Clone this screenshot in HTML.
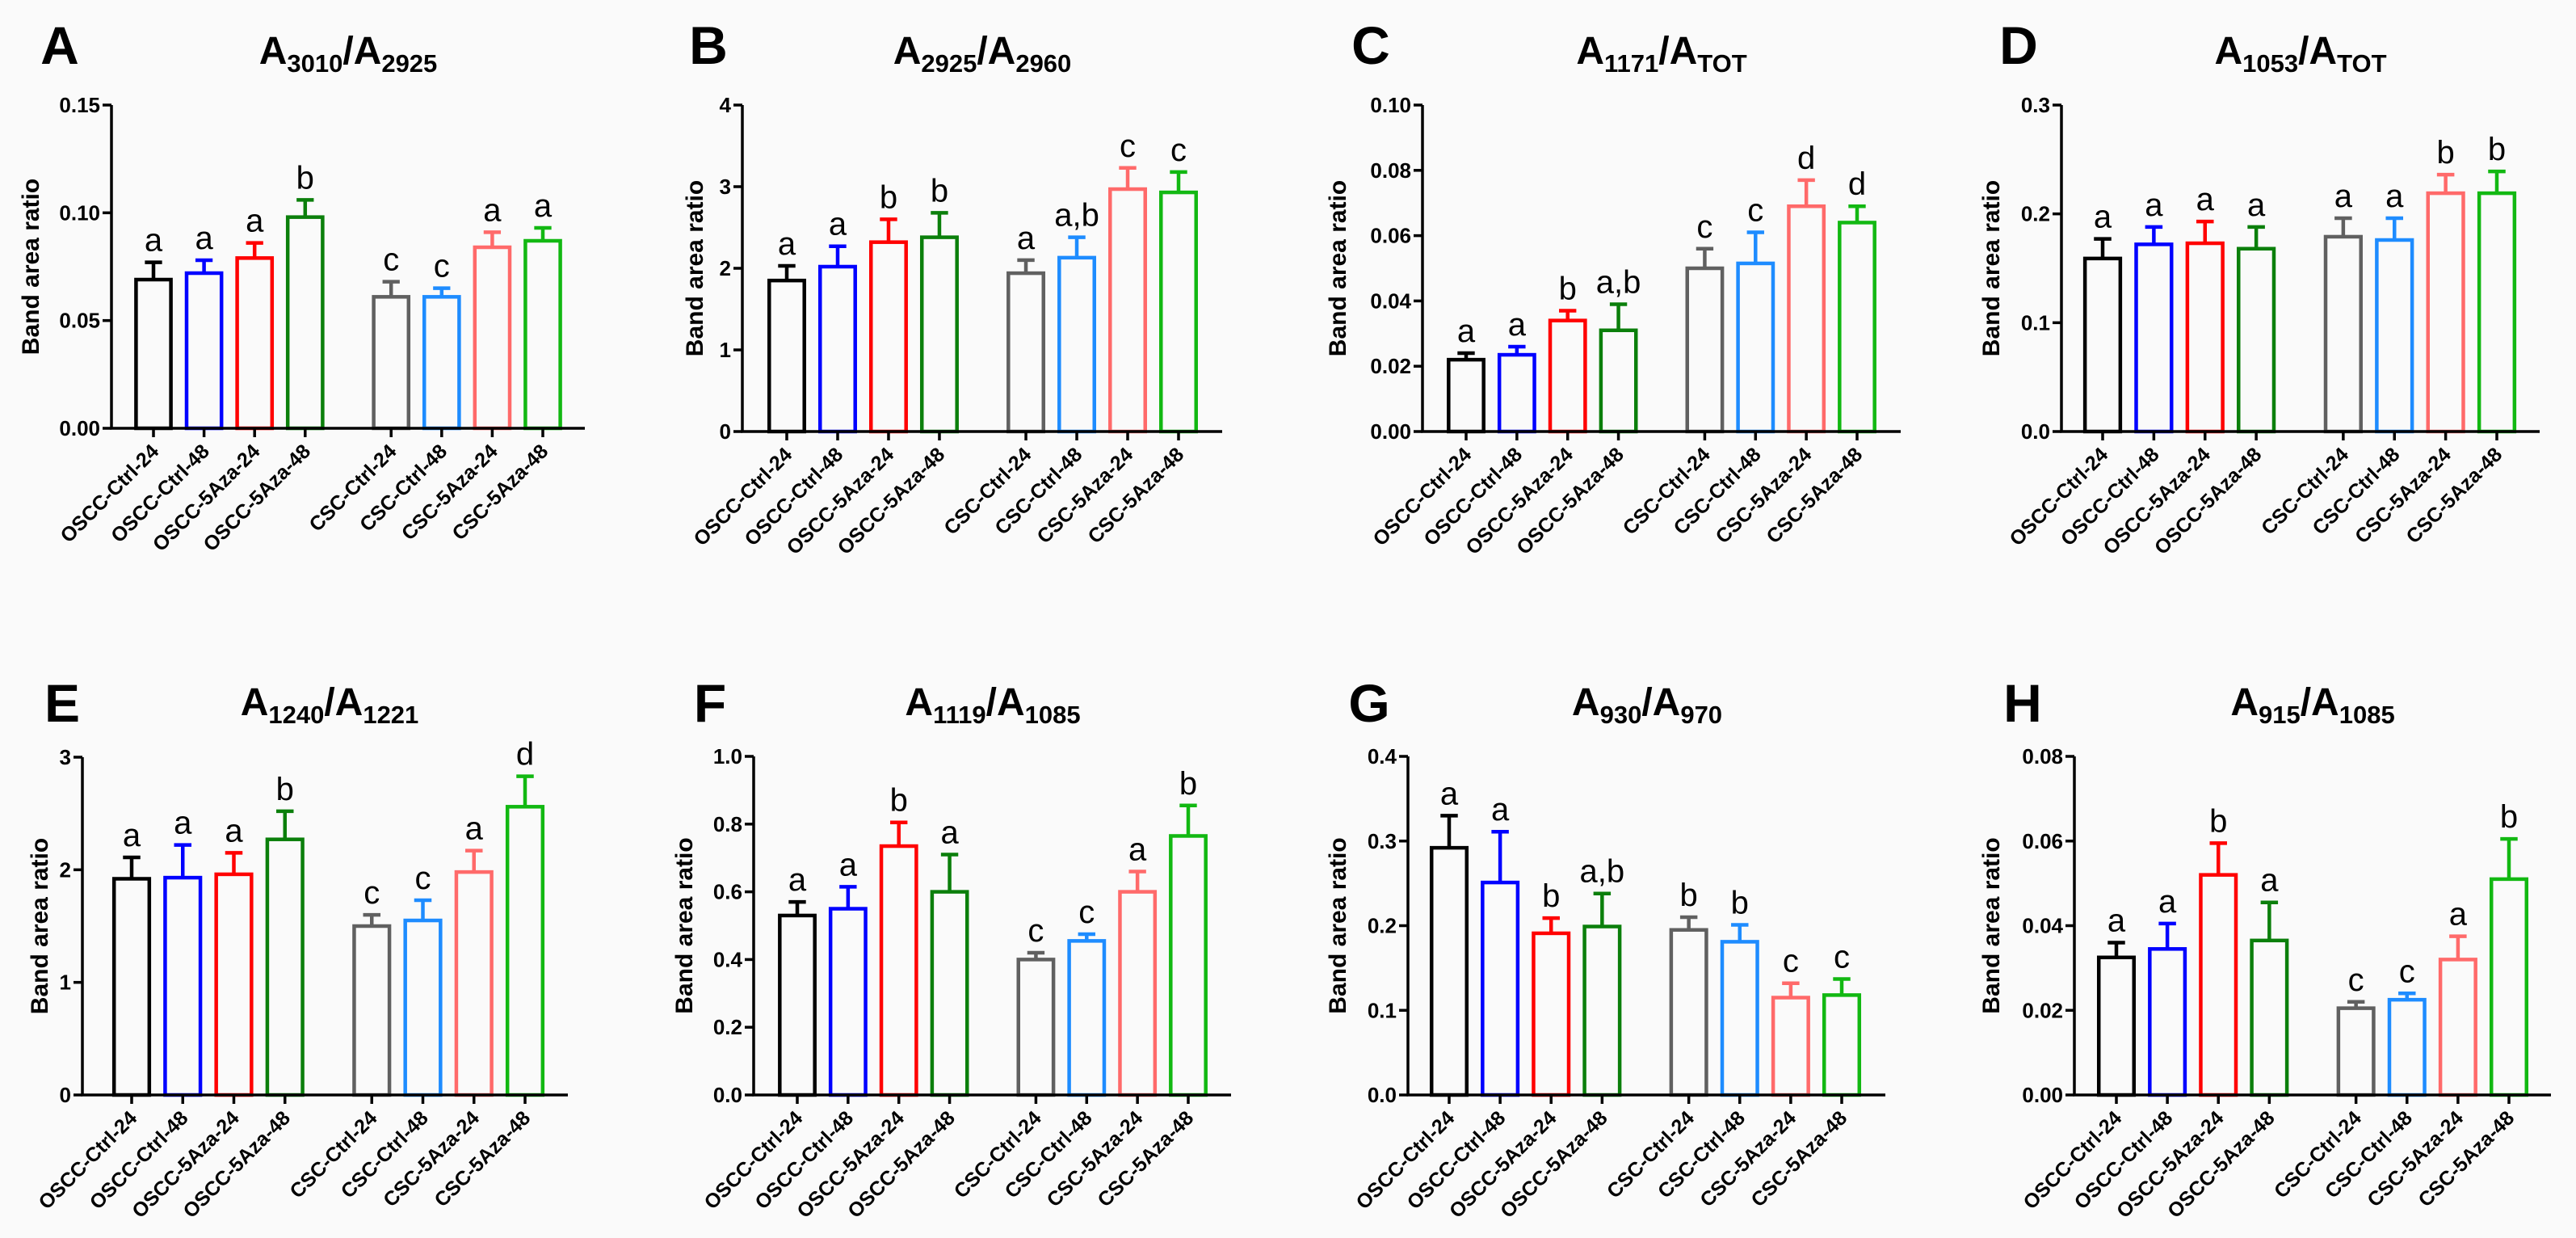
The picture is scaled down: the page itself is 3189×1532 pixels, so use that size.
<!DOCTYPE html>
<html><head><meta charset="utf-8"><title>Band area ratio panels</title>
<style>
html,body{margin:0;padding:0;background:#fafafa;}
svg{display:block;font-family:"Liberation Sans",Arial,sans-serif;}
</style></head>
<body>
<svg id="fig" width="3189" height="1532" viewBox="0 0 3189 1532" xmlns="http://www.w3.org/2000/svg">
<rect x="0" y="0" width="3189" height="1532" fill="#fafafa"/>
</svg>
<script>
const categories = ["OSCC-Ctrl-24","OSCC-Ctrl-48","OSCC-5Aza-24","OSCC-5Aza-48","CSC-Ctrl-24","CSC-Ctrl-48","CSC-5Aza-24","CSC-5Aza-48"];
const colors = ["#000000","#0000ff","#ff0000","#0b7f0b","#606060","#1e8cff","#ff6a6a","#12b812"];

const valuesA = [0.069,0.072,0.079,0.098,0.061,0.061,0.084,0.087];
const errorsA = [0.008,0.006,0.007,0.008,0.007,0.004,0.007,0.006];
const lettersA = ["a","a","a","b","c","c","a","a"];
const ticksA = ["0.00","0.05","0.10","0.15"];

const valuesB = [1.85,2.02,2.32,2.38,1.94,2.13,2.97,2.93];
const errorsB = [0.18,0.25,0.28,0.30,0.16,0.25,0.26,0.25];
const lettersB = ["a","a","b","b","a","a,b","c","c"];
const ticksB = ["0","1","2","3","4"];

const valuesC = [0.022,0.0235,0.034,0.031,0.050,0.0515,0.069,0.064];
const errorsC = [0.002,0.0025,0.003,0.008,0.006,0.0095,0.008,0.005];
const lettersC = ["a","a","b","a,b","c","c","d","d"];
const ticksC = ["0.00","0.02","0.04","0.06","0.08","0.10"];

const valuesD = [0.159,0.172,0.173,0.168,0.179,0.176,0.219,0.219];
const errorsD = [0.018,0.016,0.020,0.020,0.017,0.020,0.017,0.020];
const lettersD = ["a","a","a","a","a","a","b","b"];
const ticksD = ["0.0","0.1","0.2","0.3"];

const valuesE = [1.92,1.93,1.96,2.27,1.50,1.55,1.98,2.56];
const errorsE = [0.19,0.29,0.19,0.25,0.10,0.18,0.19,0.27];
const lettersE = ["a","a","a","b","c","c","a","d"];
const ticksE = ["0","1","2","3"];

const valuesF = [0.53,0.55,0.735,0.60,0.40,0.455,0.60,0.765];
const errorsF = [0.04,0.065,0.07,0.11,0.02,0.02,0.06,0.09];
const lettersF = ["a","a","b","a","c","c","a","b"];
const ticksF = ["0.0","0.2","0.4","0.6","0.8","1.0"];

const valuesG = [0.292,0.251,0.191,0.199,0.195,0.181,0.115,0.118];
const errorsG = [0.038,0.060,0.018,0.039,0.015,0.020,0.017,0.019];
const lettersG = ["a","a","b","a,b","b","b","c","c"];
const ticksG = ["0.0","0.1","0.2","0.3","0.4"];

const valuesH = [0.0325,0.0345,0.052,0.0365,0.0205,0.0225,0.032,0.051];
const errorsH = [0.0035,0.006,0.0075,0.009,0.0015,0.0015,0.0055,0.0095];
const lettersH = ["a","a","b","a","c","c","a","b"];
const ticksH = ["0.00","0.02","0.04","0.06","0.08"];

// layout (pixel geometry only)
const panels = [
 {id:"A", num:"3010", den:"2925", vals:valuesA, errs:errorsA, lets:lettersA, ticks:ticksA, ax:138, ylx:37, top:130, base:530, xend:724, b1:190, b8:672, tx:431, ty:79, lx:74, ly:79},
 {id:"B", num:"2925", den:"2960", vals:valuesB, errs:errorsB, lets:lettersB, ticks:ticksB, ax:919, ylx:859, top:130, base:534, xend:1513, b1:974, b8:1459, tx:1216, ty:79, lx:877, ly:79},
 {id:"C", num:"1171", den:"TOT", vals:valuesC, errs:errorsC, lets:lettersC, ticks:ticksC, ax:1761, ylx:1655, top:130, base:534, xend:2353, b1:1815, b8:2299, tx:2057, ty:79, lx:1697, ly:79},
 {id:"D", num:"1053", den:"TOT", vals:valuesD, errs:errorsD, lets:lettersD, ticks:ticksD, ax:2552, ylx:2464, top:130, base:534, xend:3144, b1:2603, b8:3091, tx:2848, ty:79, lx:2499, ly:79},
 {id:"E", num:"1240", den:"1221", vals:valuesE, errs:errorsE, lets:lettersE, ticks:ticksE, ax:102, ylx:48, top:937, base:1355, xend:703, b1:163, b8:650, tx:408, ty:885, lx:77, ly:893},
 {id:"F", num:"1119", den:"1085", vals:valuesF, errs:errorsF, lets:lettersF, ticks:ticksF, ax:933, ylx:846, top:936, base:1355, xend:1524, b1:987, b8:1471, tx:1229, ty:885, lx:879, ly:893},
 {id:"G", num:"930", den:"970", vals:valuesG, errs:errorsG, lets:lettersG, ticks:ticksG, ax:1743, ylx:1655, top:936, base:1355, xend:2334, b1:1794, b8:2280, tx:2039, ty:885, lx:1695, ly:893},
 {id:"H", num:"915", den:"1085", vals:valuesH, errs:errorsH, lets:lettersH, ticks:ticksH, ax:2568, ylx:2464, top:936, base:1355, xend:3158, b1:2620, b8:3106, tx:2863, ty:885, lx:2504, ly:893}
];

const NS = "http://www.w3.org/2000/svg";
const svg = document.getElementById("fig");
function mk(tag, attrs, parent){
  const e = document.createElementNS(NS, tag);
  for (const k in attrs) e.setAttribute(k, attrs[k]);
  parent.appendChild(e);
  return e;
}

panels.forEach(p => {
  const g = mk("g", {}, svg);
  
  
  const ymax = parseFloat(p.ticks[p.ticks.length-1]);
  const yS = v => p.base - v / ymax * (p.base - p.top);
  const sp = (p.b8 - p.b1) / 7.7;
  const xS = i => p.b1 + (i + (i >= 4 ? 0.7 : 0)) * sp;
  const bw = sp * 0.69;

  const pl = mk("text", {x:p.lx, y:p.ly, "font-size":66, "font-weight":"bold", fill:"#000", "text-anchor":"middle"}, g);
  pl.textContent = p.id;
  
  

  const t = mk("text", {x:p.tx, y:p.ty, "font-size":48, "font-weight":"bold", fill:"#000", "text-anchor":"middle"}, g);
  
  
  const s1 = mk("tspan", {}, t); s1.textContent = "A";
  const s2 = mk("tspan", {"font-size":31, dy:10}, t); s2.textContent = p.num;
  const s3 = mk("tspan", {dy:-10}, t); s3.textContent = "/A";
  const s4 = mk("tspan", {"font-size":31, dy:10}, t); s4.textContent = p.den;

  const cy = (p.top + p.base) / 2;
  const yt = mk("text", {x:0, y:0, "font-size":30, "font-weight":"bold", fill:"#000", "text-anchor":"middle",
    transform:"translate(" + (p.ylx + 11) + "," + cy + ") rotate(-90)"}, g);
  yt.textContent = "Band area ratio";
  
  

  p.vals.forEach((v, i) => {
    const x = xS(i), y = yS(v), c = colors[i];
    const r = mk("rect", {x:x - bw/2, y:y, width:bw, height:p.base - y, fill:"none", stroke:c, "stroke-width":4.5}, g);
    
    
    const yt2 = yS(v + p.errs[i]);
    const el = mk("path", {d:"M" + x + "," + y + "V" + yt2 + "M" + (x - sp*0.17) + "," + yt2 + "H" + (x + sp*0.17), stroke:c, "stroke-width":4.5, fill:"none"}, g);
    
    
    const lt = mk("text", {x:x, y:yt2 - 14, "font-size":40, fill:"#000", "text-anchor":"middle"}, g);
    lt.textContent = p.lets[i];
    
    
    const tk = mk("line", {x1:x, y1:p.base, x2:x, y2:p.base + 11, stroke:"#000", "stroke-width":3.5}, g);
    
    
    const xl = mk("text", {x:0, y:0, "font-size":25, "font-weight":"bold", fill:"#000", "text-anchor":"end",
      transform:"translate(" + (x + 8) + "," + (p.base + 30) + ") rotate(-45)"}, g);
    xl.textContent = categories[i];
    
    
  });

  const axes = mk("path", {d:"M" + p.ax + "," + (p.top) + "V" + p.base + "H" + p.xend, stroke:"#000", "stroke-width":3.5, fill:"none"}, g);
  
  
  p.ticks.forEach(tl => {
    const y = yS(parseFloat(tl));
    const tk = mk("line", {x1:p.ax - 11, y1:y, x2:p.ax, y2:y, stroke:"#000", "stroke-width":3.5}, g);
    
    
    const tt = mk("text", {x:p.ax - 14, y:y + 9, "font-size":26, "font-weight":"bold", fill:"#000", "text-anchor":"end"}, g);
    tt.textContent = tl;
    
    
  });
});
</script>
</body></html>
